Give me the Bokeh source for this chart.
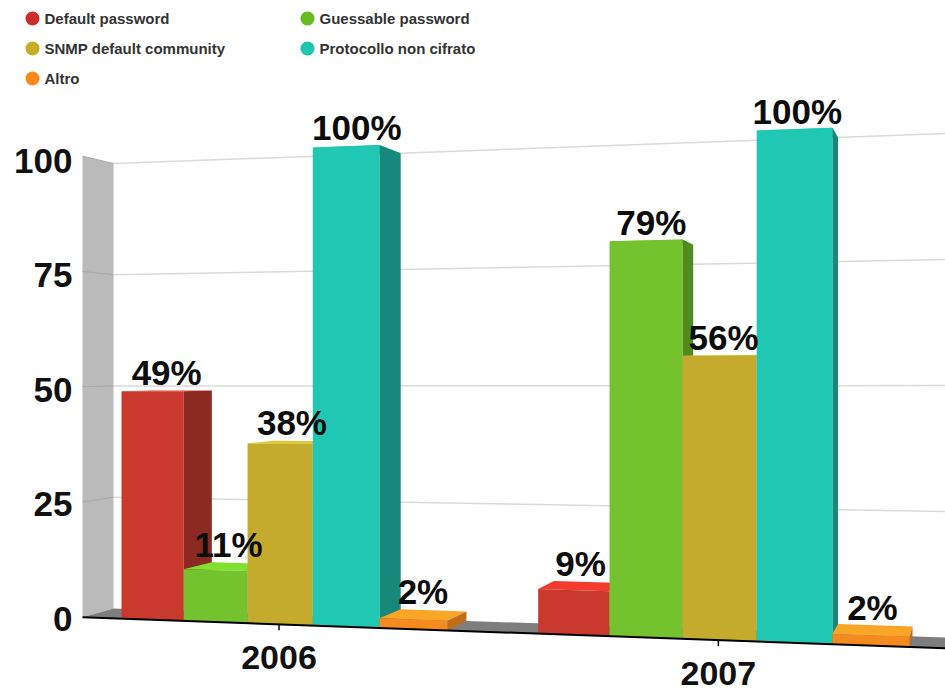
from bokeh.plotting import figure
from bokeh.models import Range1d, FixedTicker
from bokeh.core.properties import value
from bokeh.embed import file_html
from bokeh.resources import INLINE

# ---- data ----
years = ["2006", "2007"]
series_names = ["Default password", "Guessable password", "SNMP default community",
                "Protocollo non cifrato", "Altro"]
default_password = [49, 9]
guessable_password = [11, 79]
snmp_default = [38, 56]
protocollo_non_cifrato = [100, 100]
altro = [2, 2]
y_ticks = [0, 25, 50, 75, 100]

series = [default_password, guessable_password, snmp_default, protocollo_non_cifrato, altro]
front_col = ["#c9392e", "#73c22e", "#c4ab2d", "#20c8b3", "#f58a1f"]
side_col = ["#8a2a20", "#4f8c20", "#8f7c20", "#16897c", "#c06f18"]
top_col = ["#f23a2f", "#7fe030", "#e0c832", "#2ad8c0", "#f9a526"]
dot_col = ["#cc2c2a", "#66bb22", "#c8ae22", "#1fc5b0", "#ff8a1a"]

FONT = value("Liberation Sans")
W, H = 945, 691


# ---- the perspective of the 3-D scene: world -> page pixels ----
def sx(u):             # bar slot position -> page x, front plane
    return 121 + 61.6 * u + 0.72 * u * u


def bx(x):             # front page x -> back-plane page x
    return x + 28 - 0.0345 * (x - 184)


def front_y(x, v):
    return 616.7 + 0.036 * (x - 81) - (4.55 + 0.00074 * x) * v


def back_y(x, v):
    return 608 + 0.035 * (x - 113) - (4.45 + 0.00071 * (x - 113)) * v


def ay(py):            # page y -> value on the visible axis
    return (618 - py) / 4.58


p = figure(width=W, height=H, output_backend="svg", toolbar_location=None,
           x_range=Range1d(0, W), y_range=Range1d(ay(H), ay(0)),
           x_axis_location=None, y_axis_location="left",
           min_border_left=0, min_border_right=0, min_border_top=0, min_border_bottom=0,
           outline_line_color=None, background_fill_color="white")
p.grid.visible = False

XW0, XB0, XR = 82, 113, W

ax = p.yaxis[0]
ax.fixed_location = XW0
ax.ticker = FixedTicker(ticks=y_ticks)
ax.axis_line_color = None
ax.major_tick_line_color = None
ax.minor_tick_line_color = None
ax.major_label_text_font = "Liberation Sans"
ax.major_label_text_font_style = "bold"
ax.major_label_text_font_size = "35px"
ax.major_label_text_color = "#111111"
ax.major_label_standoff = 4


def poly(xs, pys, **kw):
    p.patch(list(xs), [ay(y) for y in pys], **kw)


# side wall
poly([XW0, XB0, XB0, XW0],
     [front_y(XW0, 100), back_y(XB0, 100), back_y(XB0, 0), front_y(XW0, 0)],
     fill_color="#bababa", line_color=None)
# floor
poly([XW0, XB0, XR, XR],
     [front_y(XW0, 0), back_y(XB0, 0), back_y(XR, 0), front_y(XR, 0)],
     fill_color="#7e7e7e", line_color=None)
# gridlines on back plane and wall
for t in y_ticks[1:]:
    p.line([XB0, XR], [ay(back_y(XB0, t)), ay(back_y(XR, t))], line_color="#dadada", line_width=1.5)
    p.line([XW0, XB0], [ay(front_y(XW0, t)), ay(back_y(XB0, t))], line_color="#a9a9a9", line_width=1)

# bars, painted left to right
group_start = [0, 6.3]
labels = []
for g, start in enumerate(group_start):
    for i, vals in enumerate(series):
        v = vals[g]
        x1, x2 = sx(start + i), sx(start + i + 1)
        b1, b2 = bx(x1), bx(x2)
        poly([x1, x2, b2, b1],
             [front_y(x1, v), front_y(x2, v), back_y(b2, v), back_y(b1, v)],
             fill_color=top_col[i], line_color=None)
        poly([x2, b2, b2, x2],
             [front_y(x2, v), back_y(b2, v), back_y(b2, 0), front_y(x2, 0)],
             fill_color=side_col[i], line_color=None)
        poly([x1, x2, x2, x1],
             [front_y(x1, v), front_y(x2, v), front_y(x2, 0), front_y(x1, 0)],
             fill_color=front_col[i], line_color=None)
        cx = (x1 + b2) / 2
        labels.append((cx, min(front_y(cx, v), back_y(cx, v)) - 5 - 13, f"{v}%"))

# front axis line and ticks
p.line([XW0, XR], [ay(front_y(XW0, 0)), ay(front_y(XR, 0))], line_color="#000000", line_width=2)
year_x = [sx(s + 2.5) - 1 for s in group_start]
p.segment(year_x, [ay(front_y(x, 0)) for x in year_x],
          year_x, [ay(front_y(x, 0) + 6) for x in year_x], line_color="#000000", line_width=1.5)

# year labels
p.text(year_x, [ay(front_y(x, 0) + 33) for x in year_x], text=years,
       text_font=FONT, text_font_style="bold", text_font_size="34px", text_color="#111111",
       text_align="center", text_baseline="middle")

# value labels
p.text([l[0] for l in labels], [ay(l[1]) for l in labels], text=[l[2] for l in labels],
       text_font=FONT, text_font_style="bold", text_font_size="35px", text_color="#0c0c0c",
       text_align="center", text_baseline="middle")

# legend: two columns, filled row by row
dot_x = [32 + 275 * (i % 2) for i in range(len(series_names))]
row_y = [ay(18 + 30 * (i // 2)) for i in range(len(series_names))]
p.scatter(dot_x, row_y, marker="circle", size=14, fill_color=dot_col, line_color=None)
p.text([x + 12 for x in dot_x], row_y, text=series_names,
       text_font=FONT, text_font_style="bold", text_font_size="15px", text_color="#333333",
       text_align="left", text_baseline="middle")

open("out.html", "w").write(file_html(p, INLINE))
